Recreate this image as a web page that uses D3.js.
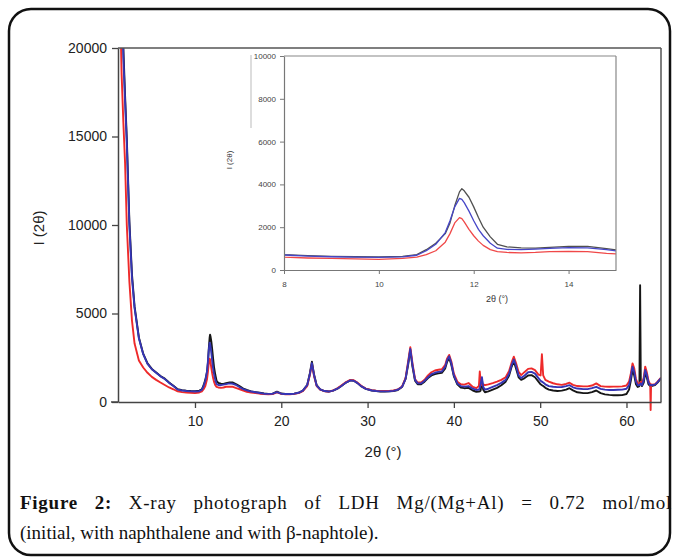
<!DOCTYPE html>
<html><head><meta charset="utf-8">
<script src="https://cdn.jsdelivr.net/npm/d3@7"></script>
<style>body{margin:0;background:#fff}svg{display:block}</style>
</head><body>
<svg id="c" width="674" height="560"></svg>
<script>
// ---- data ----
const twoTheta = [1.1,1.3,1.5,1.7,1.9,2.1,2.4,2.7,3.0,3.5,4.0,4.5,5.0,5.5,6.0,6.5,7.0,7.5,8.0,8.5,9.0,9.5,10.0,
10.5,10.8,11.0,11.2,11.4,11.5,11.6,11.7,11.75,11.8,11.9,12.0,12.1,12.2,12.35,12.5,12.7,13.0,13.3,13.6,14.0,14.4,14.8,15.2,15.6,16.0,16.5,17.0,17.5,18.0,18.5,19.0,19.5,20.0,20.5,21.0,21.5,22.0,22.5,23.0,23.3,23.55,23.8,24.1,24.5,25.0,25.5,26.0,26.5,27.0,27.5,28.0,28.4,28.8,29.3,29.8,30.5,31.0,31.5,32.0,32.5,33.0,33.5,34.0,34.4,34.7,34.95,35.2,35.5,35.8,36.2,36.6,37.0,37.4,37.8,38.2,38.6,39.0,39.2,39.45,39.7,40.0,40.4,40.8,41.2,41.7,42.2,42.6,42.9,43.0,43.1,43.25,43.4,43.6,44.0,44.5,45.0,45.5,46.0,46.4,46.7,46.95,47.2,47.5,47.8,48.2,48.6,49.0,49.4,49.8,50.05,50.2,50.35,50.6,51.0,51.5,52.0,52.5,53.0,53.4,53.8,54.3,55.0,55.5,56.0,56.5,57.0,57.5,58.0,58.5,59.0,59.5,60.0,60.3,60.5,60.7,60.9,61.1,61.3,61.5,61.58,61.66,61.8,62.0,62.17,62.35,62.55,62.75,62.8,62.85,63.0,63.3,63.6,64.0];

const initial = [42500,33500,25500,20000,17300,14900,10200,7200,5400,3650,2730,2180,1870,1670,1470,1320,1100,920,720,670,640,620,610,
640,720,950,1250,1700,2200,3000,3650,3800,3700,3400,2950,2450,2000,1550,1200,1080,1030,1020,1060,1100,1100,1000,880,760,680,600,560,520,480,460,470,580,480,450,450,470,520,640,950,1600,2280,1550,950,720,620,590,640,750,920,1100,1220,1200,1080,880,740,650,620,590,590,600,620,680,850,1300,2100,2950,2000,1200,1000,1000,1150,1350,1500,1580,1620,1650,1900,2250,2500,2100,1450,1000,820,780,800,650,580,590,600,650,1250,700,550,600,700,800,950,1150,1500,2000,2300,1900,1400,1250,1350,1500,1520,1400,1150,1000,950,900,800,700,650,620,640,700,780,660,550,500,500,560,650,500,430,400,380,380,390,450,700,1200,1800,1500,1000,850,900,6600,1100,900,1100,1640,1400,1000,900,900,900,920,950,1100,1340];

const naphthalene = [42000,33000,25000,19500,17000,14600,10000,7000,5300,3600,2700,2150,1850,1650,1450,1300,1080,900,700,650,620,600,590,
610,690,900,1200,1750,2300,2950,3350,3300,3150,2750,2300,1900,1600,1250,1020,960,950,980,1010,1050,1030,950,830,730,660,590,550,510,470,460,470,560,470,450,450,470,520,640,950,1550,2200,1500,930,720,620,590,640,750,920,1100,1220,1200,1080,880,740,650,620,600,600,610,630,690,860,1300,2200,3000,2100,1250,1050,1050,1200,1400,1570,1650,1700,1720,2000,2350,2580,2200,1500,1050,900,870,900,750,680,700,800,1000,1400,850,700,750,850,950,1080,1250,1600,2100,2400,2050,1500,1350,1500,1680,1700,1600,1350,1200,1150,1100,1000,900,860,840,850,900,950,830,760,730,730,780,860,740,700,680,680,690,700,750,950,1400,2000,1700,1150,950,950,1000,1050,950,1250,1810,1550,1100,950,950,950,960,980,1120,1350];

const naphthol = [32000,23000,18500,15800,13500,10000,6800,4600,3300,2350,1950,1650,1420,1250,1100,960,820,720,600,560,540,520,500,
540,600,720,900,1300,1700,2200,2450,2400,2250,1900,1600,1350,1150,950,860,820,800,820,860,870,860,780,720,640,580,530,500,470,450,440,450,540,460,440,440,460,500,620,900,1500,2150,1450,900,700,610,590,650,770,950,1130,1250,1230,1100,900,760,670,640,620,620,630,650,710,880,1350,2300,3100,2200,1300,1100,1100,1250,1500,1680,1780,1820,1850,2100,2450,2660,2300,1600,1150,1000,980,1070,850,780,900,1720,1200,950,1000,950,1000,1070,1150,1250,1400,1750,2250,2560,2200,1700,1520,1700,1870,1900,1800,1550,1500,2700,1500,1250,1150,1060,1000,970,1020,1090,970,900,880,880,930,1050,900,870,860,870,870,880,930,1150,1600,2180,1900,1300,1050,1050,1100,1150,1050,1400,2000,1700,1200,1000,-450,1000,980,1000,1150,1370];

const yTicks = [0,5000,10000,15000,20000];
const xTicks = [10,20,30,40,50,60];
const insetYTicks = [0,2000,4000,6000,8000,10000];
const insetXTicks = [8,10,12,14];
const captionBold = "Figure 2:";
const captionLine1 = " X-ray photograph of LDH Mg/(Mg+Al) = 0.72 mol/mol";
const captionLine2 = "(initial, with naphthalene and with β-naphtole).";

const series = [
  {name:"initial", values: initial, color:"#161616", inset:"#505050"},
  {name:"naphthol", values: naphthol, color:"#ee2a2a", inset:"#f04848"},
  {name:"naphthalene", values: naphthalene, color:"#3535b5", inset:"#4646c8"}
];

// ---- drawing ----
const svg = d3.select("#c");
const font = "'Liberation Sans', Arial, sans-serif";

svg.append("rect").attr("x",9).attr("y",9).attr("width",661).attr("height",546)
  .attr("rx",22).attr("ry",22).attr("fill","none").attr("stroke","#111").attr("stroke-width",2.5);

const x = d3.scaleLinear().domain([1.08,64]).range([118,661]);
const y = d3.scaleLinear().domain([0,20000]).range([402,48]);

const defs = svg.append("defs");
defs.append("clipPath").attr("id","mainClip").append("rect")
  .attr("x",118).attr("y",48).attr("width",543).attr("height",370);

const gMain = svg.append("g").attr("clip-path","url(#mainClip)");
const line = d3.line().x((d,i)=>x(twoTheta[i])).y(d=>y(d));
series.forEach(s=>{
  gMain.append("path").attr("d",line(s.values)).attr("fill","none")
    .attr("stroke",s.color).attr("stroke-width",1.9).attr("stroke-linejoin","round");
});

svg.append("line").attr("x1",118).attr("x2",661).attr("y1",48).attr("y2",48).attr("stroke","#555").attr("stroke-width",1.5);
svg.append("line").attr("x1",661).attr("x2",661).attr("y1",48).attr("y2",402).attr("stroke","#555").attr("stroke-width",1.5);

const ax = svg.append("g").attr("transform","translate(0,402)")
  .call(d3.axisBottom(x).tickValues(xTicks).tickFormat(d3.format("d")).tickSize(6).tickSizeOuter(0).tickPadding(8));
const ay = svg.append("g").attr("transform","translate(118,0)")
  .call(d3.axisLeft(y).tickValues(yTicks).tickFormat(d3.format("d")).tickSize(6).tickSizeOuter(0).tickPadding(5));
[ax,ay].forEach(g=>{
  g.select(".domain").attr("stroke","#444").attr("stroke-width",1.5);
  g.selectAll(".tick line").attr("stroke","#444").attr("stroke-width",1.3);
  g.selectAll(".tick text").attr("fill","#222").style("font-family",font).style("font-size","14px");
});
svg.append("line").attr("x1",111).attr("x2",118).attr("y1",402).attr("y2",402).attr("stroke","#444").attr("stroke-width",1.5);

svg.append("text").attr("x",383).attr("y",457).attr("text-anchor","middle")
  .style("font-family",font).style("font-size","15px").attr("fill","#222").text("2θ (°)");
svg.append("text").attr("transform","translate(44,228) rotate(-90)").attr("text-anchor","middle")
  .style("font-family",font).style("font-size","15px").attr("fill","#222").text("I (2θ)");

// ---- inset ----
const xi = d3.scaleLinear().domain([8,15]).range([284,616]);
const yi = d3.scaleLinear().domain([0,10000]).range([270,56]);
svg.append("rect").attr("x",284).attr("y",56).attr("width",332).attr("height",214).attr("fill","#fff");
defs.append("clipPath").attr("id","insetClip").append("rect")
  .attr("x",284).attr("y",56).attr("width",332).attr("height",214);
const gIn = svg.append("g").attr("clip-path","url(#insetClip)");
const lineI = d3.line().x((d,i)=>xi(twoTheta[i])).y(d=>yi(d));
series.forEach(s=>{
  gIn.append("path").attr("d",lineI(s.values)).attr("fill","none")
    .attr("stroke",s.inset).attr("stroke-width",1.3).attr("stroke-linejoin","round");
});
svg.append("line").attr("x1",284).attr("x2",616).attr("y1",56).attr("y2",56).attr("stroke","#888").attr("stroke-width",1.2);
svg.append("line").attr("x1",616).attr("x2",616).attr("y1",56).attr("y2",270).attr("stroke","#888").attr("stroke-width",1.2);
const axi = svg.append("g").attr("transform","translate(0,270)")
  .call(d3.axisBottom(xi).tickValues(insetXTicks).tickFormat(d3.format("d")).tickSize(4).tickSizeOuter(0).tickPadding(7));
const ayi = svg.append("g").attr("transform","translate(284,0)")
  .call(d3.axisLeft(yi).tickValues(insetYTicks).tickFormat(d3.format("d")).tickSize(4).tickSizeOuter(0).tickPadding(4));
[axi,ayi].forEach(g=>{
  g.select(".domain").attr("stroke","#777").attr("stroke-width",1.2);
  g.selectAll(".tick line").attr("stroke","#777");
  g.selectAll(".tick text").attr("fill","#444").style("font-family",font).style("font-size","8px");
});
svg.append("line").attr("x1",251).attr("x2",251).attr("y1",55).attr("y2",128).attr("stroke","#bbb").attr("stroke-width",1);
svg.append("text").attr("x",497).attr("y",302).attr("text-anchor","middle")
  .style("font-family",font).style("font-size","9px").attr("fill","#333").text("2θ (°)");
svg.append("text").attr("transform","translate(232,160) rotate(-90)").attr("text-anchor","middle")
  .style("font-family",font).style("font-size","8px").attr("fill","#333").text("I (2θ)");

// ---- caption ----
const serif = "'Liberation Serif', 'DejaVu Serif', serif";
const t1 = svg.append("text").attr("x",20).attr("y",509).style("font-family",serif).style("font-size","19px").attr("fill","#111");
t1.append("tspan").attr("font-weight","bold").text(captionBold);
t1.append("tspan").text(captionLine1);
const full = captionBold + captionLine1;
const target = 672 - 20;
const L0 = t1.node().getComputedTextLength();
const ls = Math.max(0, 0.3 * (target - L0) / full.length);
t1.style("letter-spacing", ls + "px");
const L1 = t1.node().getComputedTextLength();
const nSpaces = full.split(" ").length - 1;
t1.style("word-spacing", Math.max(0, (target - L1) / nSpaces) + "px");
svg.append("text").attr("x",20).attr("y",539).style("font-family",serif).style("font-size","19px").attr("fill","#111").text(captionLine2);
</script>
</body></html>
